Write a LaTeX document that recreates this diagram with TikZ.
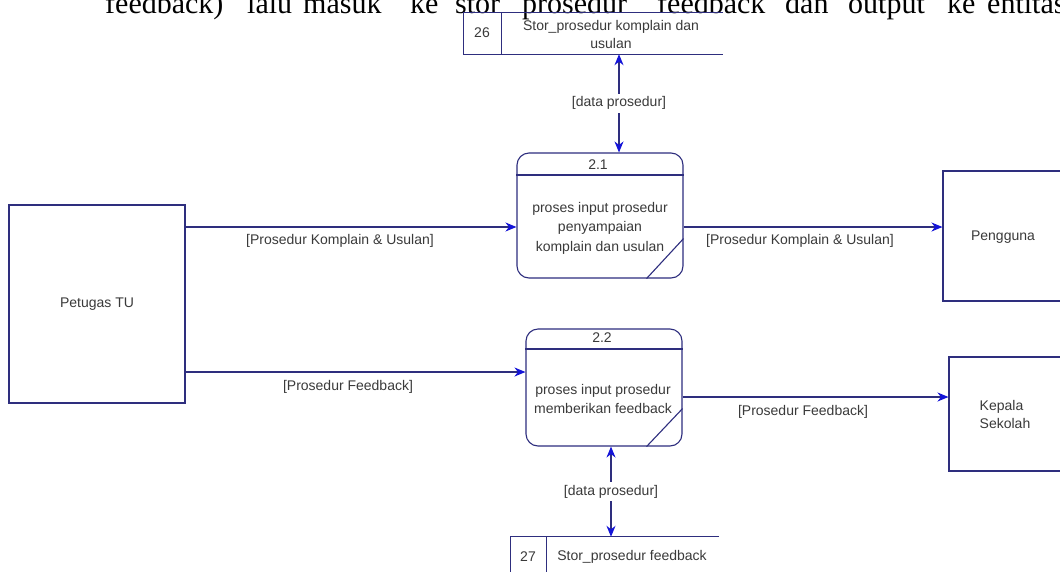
\documentclass[tikz,border=0pt]{standalone}
\usepackage{fontspec}
\usepackage{graphicx}
\setmainfont{Liberation Sans}
\newfontfamily\bodyserif{Liberation Serif}
\usetikzlibrary{arrows.meta}

\definecolor{edge}{HTML}{2E2E7E}
\definecolor{tip}{HTML}{1414D8}
\definecolor{ink}{HTML}{3A3A3A}

\begin{document}
\begin{tikzpicture}[x=1pt,y=-1pt,
  >={Stealth[length=11pt,width=9pt,inset=3.5pt,color=tip,fill=tip]},
  lbl/.style={font=\fontsize{14}{18}\selectfont, text=ink, inner sep=1pt, align=center},
  topword/.style={font=\bodyserif\fontsize{30}{30}\selectfont, text=black, inner sep=0pt, anchor=base west},
  entity/.style={draw=edge, line width=1.1pt, fill=white, rectangle},
  process/.style={draw=edge, line width=1.1pt, fill=white, rectangle, rounded corners=12pt},
  rule/.style={draw=edge, line width=1.1pt},
  flow/.style={draw=edge, line width=1.1pt, ->},
  dflow/.style={draw=edge, line width=1.1pt, <->}
]
\useasboundingbox (0,0) rectangle (1060,571);
\clip (0,0) rectangle (1060,571);
\fill[white] (0,0) rectangle (1060,571);

% running text line of the page above the figure
\foreach \px/\tword in {105/feedback), 247/lalu, 303/masuk, 410/ke, 455/stor,
  522/prosedur, 657/feedback, 785/dan, 848/output, 947/ke, 987/entitas}
  \node[topword] (w\px) at (\px,13) {\tword};

% row heights of the horizontal flows
\coordinate (rowA) at (0,227);
\coordinate (rowB) at (0,372);
\coordinate (rowC) at (0,397);

% external entities
\node[entity, minimum width=176pt, minimum height=198pt] (pt) at (97,304) {};
\node[lbl] (ptt) at (pt.center) {Petugas TU};
\node[entity, minimum width=120pt, minimum height=130pt] (pg) at (1003,236) {};
\node[lbl] (pgt) at (1003,237) {Pengguna};
\node[entity, minimum width=114pt, minimum height=114pt] (ks) at (1006,414) {};
\node[lbl, align=left] (kst) at (1005,414) {Kepala\\Sekolah};

% processes
\node[process, minimum width=166pt, minimum height=125pt] (p21) at (600,215.5) {};
\draw[rule] (p21.west |- 0,175) -- (p21.east |- 0,175);
\draw[rule] ([xshift=-37pt]p21.south east) -- ([yshift=40pt]p21.south east);
\node[lbl] (p21n) at (598,165) {2.1};
\node[lbl, font=\fontsize{14}{19.5}\selectfont] (p21t) at (600,228)
  {proses input prosedur\\penyampaian\\komplain dan usulan};

\node[process, minimum width=156pt, minimum height=117pt] (p22) at (604,387.5) {};
\draw[rule] (p22.west |- 0,349) -- (p22.east |- 0,349);
\draw[rule] ([xshift=-36pt]p22.south east) -- ([yshift=38pt]p22.south east);
\node[lbl] (p22n) at (602,338) {2.2};
\node[lbl, font=\fontsize{14}{18.5}\selectfont] (p22t) at (603,399)
  {proses input prosedur\\memberikan feedback};

% data stores (open on the right)
\node[minimum width=259pt, minimum height=41pt, inner sep=0pt] (s26) at (593.5,33.5) {};
\draw[rule] (s26.north east) -- (s26.north west) -- (s26.south west) -- (s26.south east);
\draw[rule] ([xshift=38pt]s26.north west) -- ([xshift=38pt]s26.south west);
\node[lbl] (s26n) at (482,33) {26};
\node[lbl] (s26t) at (611,34) {Stor\_prosedur komplain dan\\usulan};

\node[minimum width=208pt, minimum height=41pt, inner sep=0pt] (s27) at (615,557.5) {};
\draw[rule] (s27.north east) -- (s27.north west) -- (s27.south west);
\draw[rule] ([xshift=36pt]s27.north west) -- ([xshift=36pt]s27.south west);
\node[lbl] (s27n) at (528,557) {27};
\node[lbl] (s27t) at (632,557) {Stor\_prosedur feedback};

% flows between store and process
\draw[dflow] ([xshift=25.5pt]s26.south) -- node[lbl, fill=white, inner sep=3pt] (d1) {[data prosedur]} ([xshift=19pt]p21.north);
\draw[dflow] ([xshift=7pt]p22.south) -- node[lbl, fill=white, inner sep=3pt] (d2) {[data prosedur]} ([xshift=-4pt]s27.north);

% flows from and to the entities
\draw[flow] (pt.east |- rowA) -- (p21.west |- rowA);
\node[lbl] (f1) at (340,241) {[Prosedur Komplain \& Usulan]};
\draw[flow] (pt.east |- rowB) -- (p22.west |- rowB);
\node[lbl] (f2) at (348,387) {[Prosedur Feedback]};
\draw[flow] (p21.east |- rowA) -- (pg.west |- rowA);
\node[lbl] (f3) at (800,241) {[Prosedur Komplain \& Usulan]};
\draw[flow] (p22.east |- rowC) -- (ks.west |- rowC);
\node[lbl] (f4) at (803,412) {[Prosedur Feedback]};
\end{tikzpicture}
\end{document}
